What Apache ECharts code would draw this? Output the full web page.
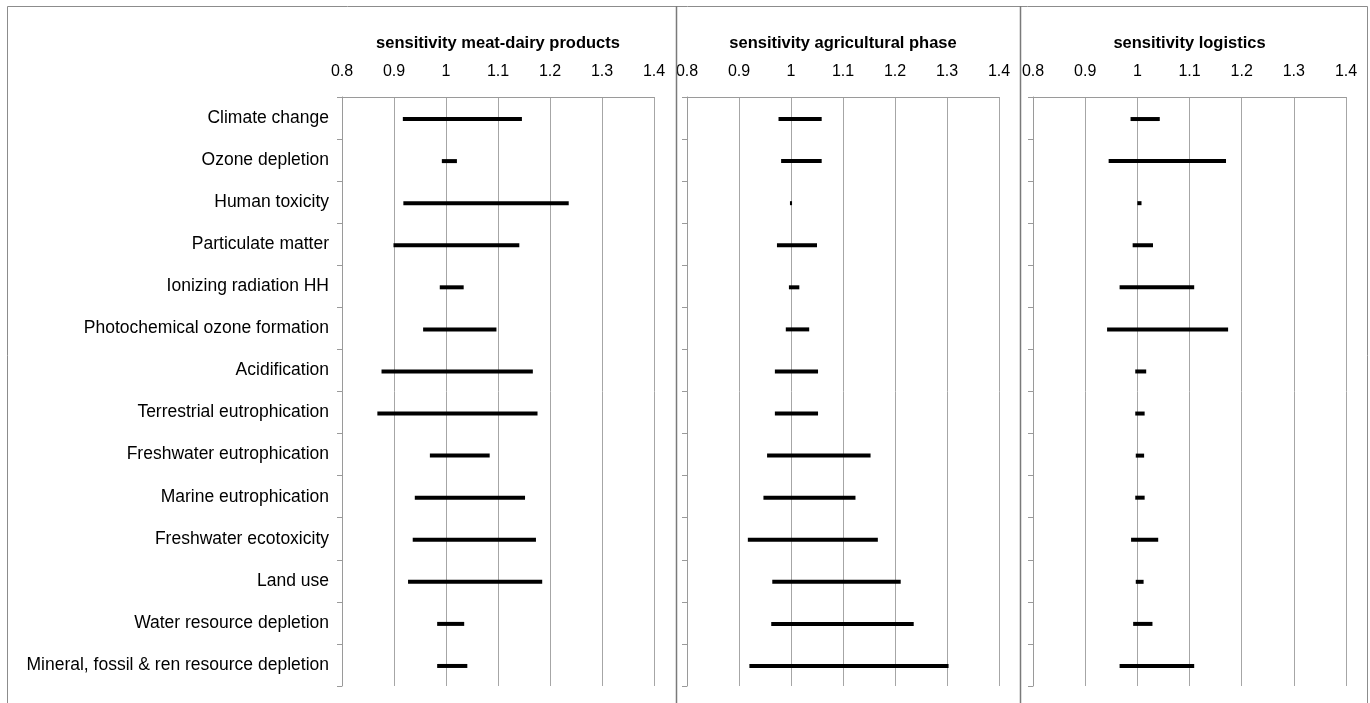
<!DOCTYPE html>
<html>
<head>
<meta charset="utf-8">
<script src="https://cdn.jsdelivr.net/npm/echarts@6/dist/echarts.min.js"></script>
<style>
html,body{margin:0;padding:0;background:#fff;}
#chart{width:1370px;height:703px;}
</style>
</head>
<body>
<div id="chart"></div>
<script>
const categories = [
  "Climate change", "Ozone depletion", "Human toxicity", "Particulate matter",
  "Ionizing radiation HH", "Photochemical ozone formation", "Acidification",
  "Terrestrial eutrophication", "Freshwater eutrophication", "Marine eutrophication",
  "Freshwater ecotoxicity", "Land use", "Water resource depletion",
  "Mineral, fossil & ren resource depletion"
];
const panelTitles = ["sensitivity meat-dairy products", "sensitivity agricultural phase", "sensitivity logistics"];
const tickValues = [0.8, 0.9, 1.0, 1.1, 1.2, 1.3, 1.4];

const meatLow  = [0.917, 0.992, 0.918, 0.899, 0.988, 0.956, 0.876, 0.868, 0.969, 0.940, 0.936, 0.927, 0.983, 0.983];
const meatHigh = [1.146, 1.021, 1.236, 1.141, 1.034, 1.097, 1.167, 1.176, 1.084, 1.152, 1.173, 1.185, 1.035, 1.041];
const agriLow  = [0.976, 0.981, 0.998, 0.973, 0.996, 0.990, 0.969, 0.969, 0.954, 0.947, 0.917, 0.964, 0.962, 0.920];
const agriHigh = [1.059, 1.059, 1.002, 1.050, 1.016, 1.035, 1.052, 1.052, 1.153, 1.124, 1.167, 1.211, 1.236, 1.303];
const logLow   = [0.987, 0.945, 1.000, 0.991, 0.966, 0.942, 0.996, 0.996, 0.997, 0.996, 0.988, 0.997, 0.992, 0.966];
const logHigh  = [1.043, 1.170, 1.008, 1.030, 1.109, 1.174, 1.017, 1.014, 1.013, 1.014, 1.040, 1.012, 1.029, 1.109];

const panels = [[meatLow, meatHigh], [agriLow, agriHigh], [logLow, logHigh]];
const gridLefts = [342, 687, 1033];
const gridWidths = [312, 312, 313];
const FONT = "'Liberation Sans', Arial, sans-serif";

const chart = echarts.init(document.getElementById('chart'));

function renderRange(params, api) {
  const p1 = api.coord([api.value(0), api.value(1)]);
  const p2 = api.coord([api.value(2), api.value(1)]);
  const h = 4;
  return {
    type: 'rect',
    shape: { x: p1[0], y: p1[1] - h / 2 + 1, width: p2[0] - p1[0], height: h },
    style: { fill: '#000' }
  };
}

const grid = [], xAxis = [], yAxis = [], series = [];
panels.forEach(function (pair, k) {
  grid.push({ left: gridLefts[k], top: 97, width: gridWidths[k], height: 589, containLabel: false });
  xAxis.push({
    type: 'value', gridIndex: k, position: 'top',
    min: tickValues[0], max: tickValues[tickValues.length - 1], interval: 0.1,
    name: panelTitles[k], nameLocation: 'middle', nameGap: 45,
    nameTextStyle: { fontFamily: FONT, fontWeight: 'bold', fontSize: 16.5, color: '#000' },
    axisLine: { show: true, lineStyle: { color: '#9a9a9a', width: 1 } },
    axisTick: { show: false },
    axisLabel: { fontFamily: FONT, fontSize: 16, color: '#000', margin: 17,
      formatter: function (v) { return String(Math.round(v * 10) / 10); } },
    splitLine: { show: true, lineStyle: { color: '#a6a6a6', width: 1 } }
  });
  yAxis.push({
    type: 'category', gridIndex: k, inverse: true, data: categories,
    boundaryGap: true,
    axisLine: { show: true, lineStyle: { color: '#9a9a9a', width: 1 } },
    axisTick: { show: true, length: 5, inside: false, lineStyle: { color: '#9a9a9a' } },
    axisLabel: { show: k === 0, fontFamily: FONT, fontSize: 17.5, color: '#000', margin: 13 },
    splitLine: { show: false }
  });
  series.push({
    type: 'custom', xAxisIndex: k, yAxisIndex: k,
    renderItem: renderRange,
    encode: { x: [0, 2], y: 1 },
    data: categories.map(function (c, i) { return [pair[0][i], i, pair[1][i]]; }),
    silent: true
  });
});

chart.setOption({
  backgroundColor: '#fff',
  animation: false,
  grid: grid, xAxis: xAxis, yAxis: yAxis, series: series,
  graphic: [
    { type: 'rect', shape: { x: 7.5, y: 6.5, width: 1360, height: 720 },
      style: { fill: 'none', stroke: '#8c8c8c', lineWidth: 1 }, z: 100, silent: true },
    { type: 'line', shape: { x1: 676.5, y1: 6, x2: 676.5, y2: 703 },
      style: { stroke: '#7a7a7a', lineWidth: 1.5 }, z: 100, silent: true },
    { type: 'line', shape: { x1: 1020.5, y1: 6, x2: 1020.5, y2: 703 },
      style: { stroke: '#7a7a7a', lineWidth: 1.5 }, z: 100, silent: true }
  ]
});
</script>
</body>
</html>
